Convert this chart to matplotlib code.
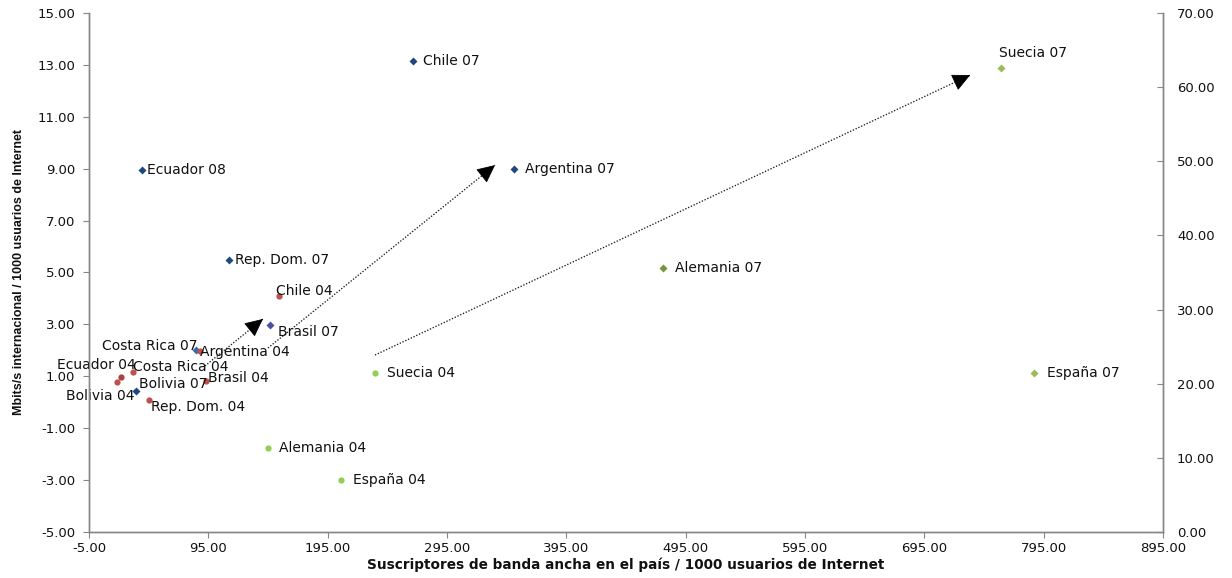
import matplotlib
matplotlib.use("Agg")
import matplotlib.pyplot as plt
import numpy as np

# Latin America, 2007/2008 (left axis: Mbit/s international per 1000 Internet users)
lat07_names = ["Chile 07", "Argentina 07", "Ecuador 08", "Rep. Dom. 07",
               "Brasil 07", "Costa Rica 07", "Bolivia 07"]
lat07_x = [266.6, 351.2, 39.4, 112.4, 146.7, 84.7, 34.4]
lat07_y = [13.15, 8.99, 8.95, 5.48, 2.98, 2.01, 0.43]

# Latin America, 2004 (left axis)
lat04_names = ["Chile 04", "Argentina 04", "Costa Rica 04", "Ecuador 04",
               "Bolivia 04", "Rep. Dom. 04", "Brasil 04"]
lat04_x = [154.3, 88.0, 31.9, 21.8, 18.5, 45.3, 93.0]
lat04_y = [4.09, 1.97, 1.17, 0.97, 0.78, 0.09, 0.82]

# Europe, 2007 (right axis)
eu07_names = ["Suecia 07", "Alemania 07", "España 07"]
eu07_x = [759.5, 476.0, 787.0]
eu07_y = [62.6, 35.6, 21.45]

# Europe, 2004 (right axis)
eu04_names = ["Suecia 04", "Alemania 04", "España 04"]
eu04_x = [234.7, 145.0, 206.0]
eu04_y = [21.45, 11.33, 7.0]

# Trend arrows (left-axis coordinates)
arrow_x0 = [92.2, 145.0, 234.7]
arrow_y0 = [1.40, 2.09, 1.82]
arrow_x1 = [140.8, 335.3, 733.5]
arrow_y1 = [3.21, 9.14, 12.61]

x_ticks = np.arange(-5, 896, 100)
yl_ticks = np.arange(-5, 16, 2)
yr_ticks = np.arange(0, 71, 10)

# label placement: (dx px, dy px, horizontal alignment)
label_pos = {
    "Chile 07": (10, 0, "left"), "Argentina 07": (11, 0, "left"),
    "Ecuador 08": (5, 0, "left"), "Rep. Dom. 07": (6, 0, "left"),
    "Brasil 07": (8, -7, "left"), "Costa Rica 07": (2, 4, "right"),
    "Bolivia 07": (3, 7, "left"),
    "Chile 04": (-3, 5, "left"), "Argentina 04": (0, -1, "left"),
    "Costa Rica 04": (0, 5, "left"), "Ecuador 04": (15, 12, "right"),
    "Bolivia 04": (18, -14, "right"), "Rep. Dom. 04": (2, -7, "left"),
    "Brasil 04": (2, 3, "left"),
    "Suecia 07": (-2, 15, "left"), "Alemania 07": (12, 0, "left"),
    "España 07": (13, 0, "left"),
    "Suecia 04": (12, 0, "left"), "Alemania 04": (11, 0, "left"),
    "España 04": (12, 0, "left"),
}
point_color = {"Brasil 07": "#4B4FA0", "Costa Rica 07": "#3A68B0",
               "Ecuador 04": "#A8403C", "Alemania 07": "#77933C"}

plt.rcParams["font.family"] = ["DejaVu Sans"]
fig = plt.figure(figsize=(12.32, 5.78), dpi=100)
ax = fig.add_axes([0.0722, 0.0796, 0.8718, 0.8979])
ax2 = ax.twinx()

def draw(axis, xs, ys, names, marker, base, ms):
    for x, y, n in zip(xs, ys, names):
        axis.plot(x, y, linestyle="none", marker=marker, ms=ms,
                  color=point_color.get(n, base), mec="none", zorder=3)
        dx, dy, ha = label_pos[n]
        axis.annotate(n, (x, y), xytext=(dx, dy), textcoords="offset pixels",
                      ha=ha, va="center", fontsize=10, color="#111111",
                      zorder=4)

draw(ax, lat07_x, lat07_y, lat07_names, "D", "#1F497D", 4.2)
draw(ax, lat04_x, lat04_y, lat04_names, "o", "#C0504D", 4.5)
draw(ax2, eu07_x, eu07_y, eu07_names, "D", "#9BBB59", 4.2)
draw(ax2, eu04_x, eu04_y, eu04_names, "o", "#92D050", 4.5)

# dotted shafts with solid triangular heads
for x0, y0, x1, y1 in zip(arrow_x0, arrow_y0, arrow_x1, arrow_y1):
    ax.plot([x0, x1], [y0, y1], linestyle=(0, (1, 1.3)), lw=0.95,
            color="#1a1a1a", zorder=5)
    hx = x1 - 0.01 * (x1 - x0)
    hy = y1 - 0.01 * (y1 - y0)
    ax.annotate("", xy=(x1, y1), xytext=(hx, hy),
                arrowprops=dict(arrowstyle="-|>,head_length=1.15,head_width=0.55",
                                lw=0.6, color="black", shrinkA=0, shrinkB=0,
                                mutation_scale=10),
                zorder=6)

ax.set_xlim(-5, 895)
ax.set_ylim(-5, 15)
ax2.set_ylim(0, 70)
ax.set_xticks(x_ticks)
ax.set_yticks(yl_ticks)
ax2.set_yticks(yr_ticks)
ax.set_xticklabels([f"{v:.2f}" for v in x_ticks])
ax.set_yticklabels([f"{v:.2f}" for v in yl_ticks])
ax2.set_yticklabels([f"{v:.2f}" for v in yr_ticks])

spine_c = "#868686"
for a in (ax, ax2):
    a.spines["top"].set_visible(False)
    for s in ("left", "right", "bottom"):
        a.spines[s].set_color(spine_c)
        a.spines[s].set_linewidth(1.0)
    a.set_facecolor("none")
ax.tick_params(axis="x", direction="out", length=4, color=spine_c,
               labelsize=9.5, labelcolor="#111111", pad=3)
ax.tick_params(axis="y", direction="out", length=4, color=spine_c,
               labelsize=9.5, labelcolor="#111111", pad=6)
ax2.tick_params(axis="y", direction="in", length=4, color=spine_c,
                labelsize=9.5, labelcolor="#111111", pad=10)

ax.set_xlabel("Suscriptores de banda ancha en el país / 1000 usuarios de Internet",
              labelpad=2, family=["DejaVu Sans"], fontweight="bold",
              fontsize=9.8, color="#111111")
ax.set_ylabel("Mbits/s internacional / 1000 usuarios de Internet",
              labelpad=9, family=["Liberation Sans", "DejaVu Sans"],
              fontweight="bold", fontsize=9, color="#111111")

fig.savefig("out.png", dpi=100)
